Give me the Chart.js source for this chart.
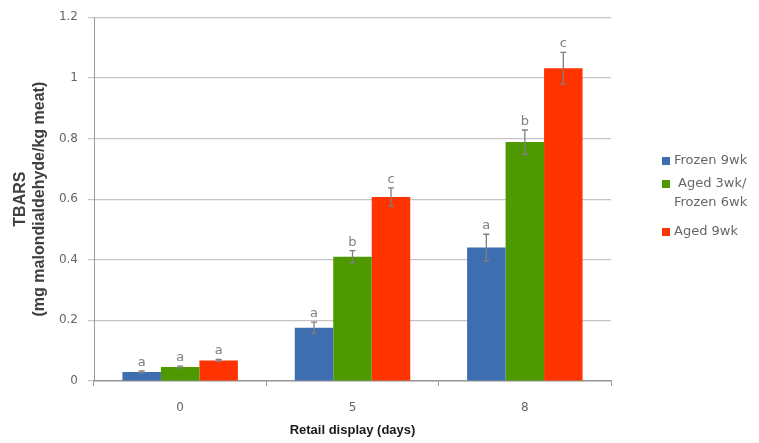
<!DOCTYPE html>
<html>
<head>
<meta charset="utf-8">
<script src="https://cdn.jsdelivr.net/npm/chart.js@4"></script>
<style>
  html, body { margin: 0; padding: 0; background: #fff; }
  #chart-container { width: 759px; height: 443px; }
</style>
</head>
<body>
<div id="chart-container"><canvas id="chart"></canvas></div>
<script>
// data
const days = ["0", "5", "8"];
const seriesNames = ["Frozen 9wk", "Aged 3wk/\nFrozen 6wk", "Aged 9wk"];
const frozen9 = [0.030, 0.176, 0.440];
const aged3frozen6 = [0.046, 0.410, 0.788];
const aged9 = [0.068, 0.607, 1.032];
const frozen9Err = [0.003, 0.018, 0.044];
const aged3frozen6Err = [0.003, 0.020, 0.040];
const aged9Err = [0.003, 0.030, 0.052];
const frozen9Letters = ["a", "a", "a"];
const aged3frozen6Letters = ["a", "b", "b"];
const aged9Letters = ["a", "c", "c"];

const COLORS = ["#3D6FB0", "#4E9900", "#FF3300"];
const GRAY = "#7f7f7f";
const TEXT = "#666666";

// whiskers and significance letters over each bar
const errorBars = {
  id: "errorBars",
  afterDatasetsDraw(chart) {
    const ctx = chart.ctx;
    const y = chart.scales.y;
    chart.data.datasets.forEach((ds, i) => {
      const meta = chart.getDatasetMeta(i);
      meta.data.forEach((bar, j) => {
        const v = ds.data[j], e = ds.err[j];
        const yTop = y.getPixelForValue(v + e);
        const yBot = y.getPixelForValue(v - e);
        ctx.save();
        ctx.strokeStyle = GRAY;
        ctx.lineWidth = 1.3;
        ctx.beginPath();
        ctx.moveTo(bar.x, yTop); ctx.lineTo(bar.x, yBot);
        ctx.moveTo(bar.x - 3, yTop); ctx.lineTo(bar.x + 3, yTop);
        ctx.moveTo(bar.x - 3, yBot); ctx.lineTo(bar.x + 3, yBot);
        ctx.stroke();
        ctx.fillStyle = "#808080";
        ctx.font = "13px 'DejaVu Sans'";
        ctx.textAlign = "center";
        ctx.textBaseline = "bottom";
        ctx.fillText(ds.letters[j], bar.x, yTop - 2);
        ctx.restore();
      });
    });
  }
};

// legend on the right, with a two-line entry
const sideLegend = {
  id: "sideLegend",
  afterDraw(chart) {
    const ctx = chart.ctx;
    const rows = [161, 184, 232];
    ctx.save();
    ctx.font = "13px 'DejaVu Sans'";
    ctx.textBaseline = "middle";
    chart.data.datasets.forEach((ds, i) => {
      ctx.fillStyle = ds.backgroundColor;
      ctx.fillRect(662, rows[i] - 4, 8, 8);
      ctx.fillStyle = TEXT;
      ds.label.split("\n").forEach((line, k) => {
        ctx.fillText(line, k === 0 && i === 1 ? 678 : 674, rows[i] + k * 19);
      });
    });
    ctx.restore();
  }
};

const datasets = [
  { label: seriesNames[0], data: frozen9, err: frozen9Err, letters: frozen9Letters, backgroundColor: COLORS[0] },
  { label: seriesNames[1], data: aged3frozen6, err: aged3frozen6Err, letters: aged3frozen6Letters, backgroundColor: COLORS[1] },
  { label: seriesNames[2], data: aged9, err: aged9Err, letters: aged9Letters, backgroundColor: COLORS[2] }
];

new Chart(document.getElementById("chart"), {
  type: "bar",
  data: { labels: days, datasets: datasets },
  options: {
    responsive: true,
    maintainAspectRatio: false,
    animation: false,
    datasets: { bar: { categoryPercentage: 0.67, barPercentage: 1.0 } },
    layout: { padding: { top: 13, right: 148, left: 0, bottom: 0 } },
    plugins: { legend: { display: false }, tooltip: { enabled: false } },
    scales: {
      x: {
        grid: { offset: true, drawOnChartArea: false, color: "#999", tickLength: 5 },
        border: { color: "#999", width: 1.5 },
        ticks: { color: TEXT, font: { family: "DejaVu Sans", size: 12 }, padding: 15 },
        title: {
          display: true, text: "Retail display (days)", color: "#1a1a1a",
          font: { family: "Liberation Sans", size: 13, weight: "bold" },
          padding: { top: 0, bottom: 5 }
        },
        afterFit(s) { s.height = 62; }
      },
      y: {
        min: 0, max: 1.2,
        grid: { color: "#c4c4c4", tickLength: 6, lineWidth: 1.2 },
        border: { color: "#999" },
        ticks: { stepSize: 0.2, color: TEXT, font: { family: "DejaVu Sans", size: 12 }, padding: 10,
          callback: v => +v.toFixed(1) },
        title: {
          display: true, text: ["TBARS", "(mg malondialdehyde/kg meat)"], color: "#404040",
          font: { family: "Liberation Sans", size: 16, weight: "bold" },
          padding: { top: 11, bottom: 0 }
        },
        afterFit(s) { s.width = 94; }
      }
    }
  },
  plugins: [errorBars, sideLegend]
});
</script>
</body>
</html>
